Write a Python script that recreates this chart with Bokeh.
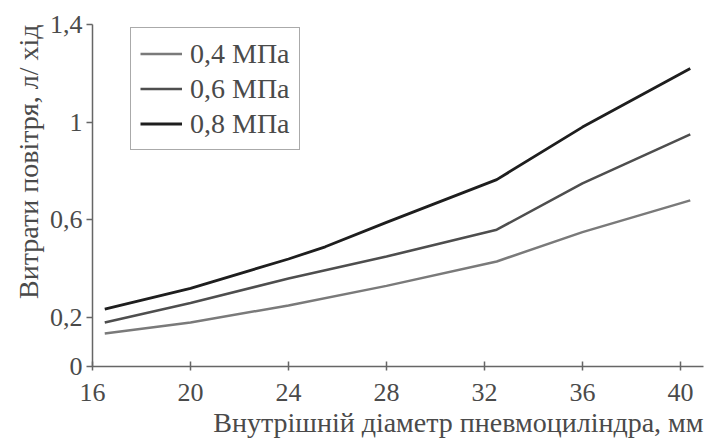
from bokeh.plotting import figure
from bokeh.models import Legend, LegendItem, Title, FixedTicker, Range1d
from bokeh.embed import file_html
from bokeh.resources import INLINE

# data
diam = [16.5, 20, 24, 28, 32.5, 36, 40.4]
q04 = [0.135, 0.18, 0.25, 0.33, 0.43, 0.55, 0.68]
q06 = [0.18, 0.26, 0.36, 0.45, 0.56, 0.75, 0.95]
diam8 = [16.5, 20, 24, 25.5, 28, 32.5, 36, 40.4]
q08 = [0.235, 0.32, 0.44, 0.49, 0.59, 0.765, 0.98, 1.22]

x_ticks = [16, 20, 24, 28, 32, 36, 40]
y_ticks = [0, 0.2, 0.6, 1, 1.4]
y_tick_labels = {0: "0", 0.2: "0,2", 0.6: "0,6", 1: "1", 1.4: "1,4"}
series_names = ["0,4 МПа", "0,6 МПа", "0,8 МПа"]
colors = ["#7a7a7a", "#4e4e4e", "#1e1e1e"]

FONT = "Times New Roman"
TXT = "#4a4a4a"

p = figure(width=714, height=446, output_backend="svg", toolbar_location=None,
           x_range=Range1d(16, 40.94), y_range=Range1d(0, 1.4),
           min_border_left=92, min_border_right=11, min_border_top=24, min_border_bottom=80)
p.outline_line_color = None
p.xgrid.visible = False
p.ygrid.visible = False
p.background_fill_color = "white"
p.border_fill_color = "white"

r4 = p.line(diam, q04, line_color=colors[0], line_width=2.5)
r6 = p.line(diam, q06, line_color=colors[1], line_width=2.5)
r8 = p.line(diam8, q08, line_color=colors[2], line_width=2.8)

for ax in (p.xaxis[0], p.yaxis[0]):
    ax.axis_line_color = "#666666"
    ax.axis_line_width = 1.5
    ax.major_tick_line_color = "#666666"
    ax.major_tick_line_width = 1.5
    ax.minor_tick_line_color = None
    ax.major_label_text_font = FONT
    ax.major_label_text_font_size = "26px"
    ax.major_label_text_color = TXT

p.xaxis.ticker = FixedTicker(ticks=x_ticks)
p.xaxis.major_tick_in = 5
p.xaxis.major_tick_out = 4
p.xaxis.major_label_standoff = 13

p.yaxis.ticker = FixedTicker(ticks=y_ticks)
p.yaxis.major_label_overrides = y_tick_labels
p.yaxis.major_tick_in = 0
p.yaxis.major_tick_out = 6
p.yaxis.major_label_standoff = 4

yt = Title(text="Витрати повітря, л/ хід", align="right",
           text_font=FONT, text_font_size="28px", text_color=TXT,
           text_font_style="normal", offset=0, standoff=6)
p.add_layout(yt, "left")

xt = Title(text="Внутрішній діаметр пневмоциліндра, мм", align="right",
           text_font=FONT, text_font_size="28px", text_color=TXT,
           text_font_style="normal", offset=0, standoff=2)
p.add_layout(xt, "below")

legend = Legend(items=[LegendItem(label=series_names[0], renderers=[r4]),
                       LegendItem(label=series_names[1], renderers=[r6]),
                       LegendItem(label=series_names[2], renderers=[r8])],
                location=(38, 216))
legend.label_text_font = FONT
legend.label_text_font_size = "28px"
legend.label_text_color = TXT
legend.border_line_color = "#555555"
legend.border_line_width = 1.5
legend.glyph_width = 42
legend.glyph_height = 33
legend.label_height = 33
legend.spacing = 2
legend.padding = 9
legend.label_standoff = 8
legend.background_fill_alpha = 1
p.add_layout(legend, "center")

open("out.html", "w").write(file_html(p, INLINE))
